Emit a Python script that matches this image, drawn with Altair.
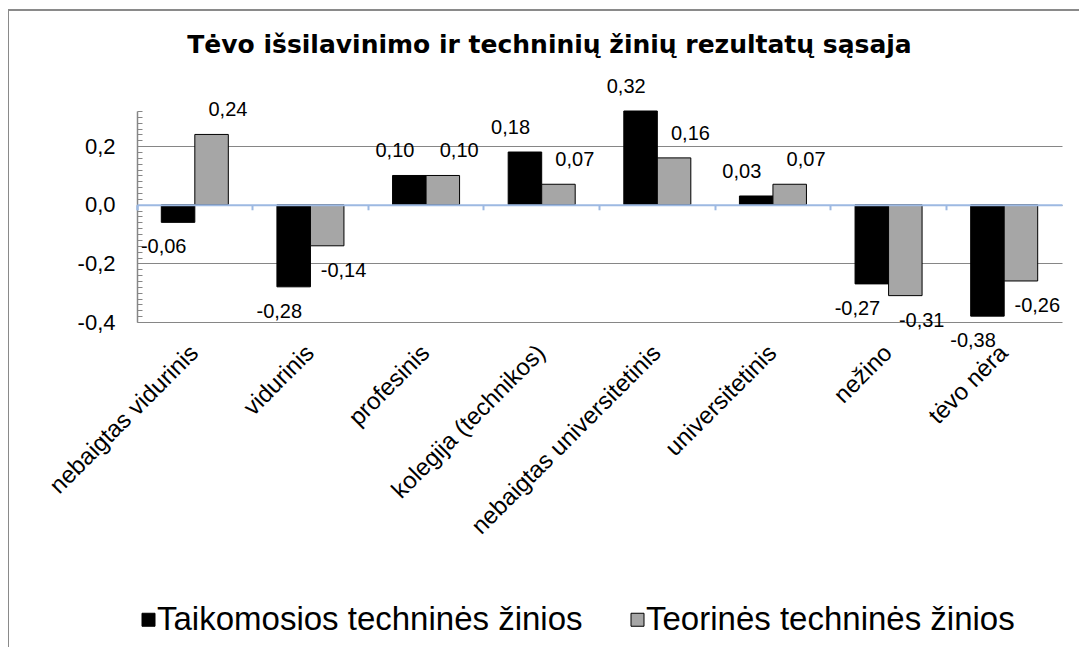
import altair as alt
import pandas as pd

# ---- data ----
categories = ["nebaigtas vidurinis", "vidurinis", "profesinis", "kolegija (technikos)",
              "nebaigtas universitetinis", "universitetinis", "nežino", "tėvo nėra"]
series_names = ["Taikomosios techninės žinios", "Teorinės techninės žinios"]
taikomosios = [-0.06, -0.28, 0.10, 0.18, 0.32, 0.03, -0.27, -0.38]
teorines = [0.24, -0.14, 0.10, 0.07, 0.16, 0.07, -0.31, -0.26]
y_major_ticks = [-0.4, -0.2, 0.0, 0.2]
title_text = "Tėvo išsilavinimo ir techninių žinių rezultatų sąsaja"

rows = []
for s, vals in zip(series_names, [taikomosios, teorines]):
    for c, v in zip(categories, vals):
        rows.append({"cat": c, "series": s, "value": v,
                     "label": f"{v:.2f}".replace(".", ",")})
df = pd.DataFrame(rows)

# ---- layout ----
W, H = 925, 211
Y_MIN, Y_MAX = -0.4, 0.32
zero_offset = -H * (0 - Y_MIN) / (Y_MAX - Y_MIN)
minor_ticks = [round(Y_MIN + 0.02 * i, 2) for i in range(int(round((Y_MAX - Y_MIN) / 0.02)) + 1)]

FONT = "Liberation Sans"
GRID = "#868686"
ZERO = "#9db9e2"

x_scale = alt.Scale(domain=categories, paddingInner=0, paddingOuter=0)
y_scale = alt.Scale(domain=[Y_MIN, Y_MAX], nice=False, zero=False)
off_scale = alt.Scale(domain=series_names, paddingInner=0, paddingOuter=0.725)
lab_off_scale = alt.Scale(domain=series_names, paddingInner=0, paddingOuter=0.4)
color_scale = alt.Scale(domain=series_names, range=["#000000", "#a6a6a6"])

label_expr = "replace(replace(format(datum.value, '.1f'), '.', ','), '\u2212', '-')"

base = alt.Chart(df)

bars = base.mark_bar(stroke="black", strokeWidth=1).encode(
    x=alt.X("cat:N", scale=x_scale, sort=categories, title=None,
            axis=alt.Axis(orient="bottom", labelAngle=-45, labelAlign="right",
                          labelBaseline="middle", labelPadding=27, labelOffset=0,
                          ticks=False, domain=False, grid=False, labelFont=FONT,
                          labelFontSize=24, labelColor="black", labelLimit=500)),
    xOffset=alt.XOffset("series:N", scale=off_scale, sort=series_names),
    y=alt.Y("value:Q", scale=y_scale, title=None,
            axis=alt.Axis(orient="left", values=y_major_ticks, labelExpr=label_expr,
                          grid=True, gridColor=GRID, gridWidth=1, ticks=False,
                          domain=True, domainColor=GRID, domainWidth=1.5,
                          labelPadding=22, labelFont=FONT, labelFontSize=22,
                          labelColor="black")),
    y2=alt.datum(0),
    color=alt.Color("series:N", scale=color_scale, sort=series_names,
                    legend=alt.Legend(orient="none", legendX=-5, legendY=492,
                                      direction="horizontal", title=None,
                                      symbolType="square", symbolSize=169,
                                      symbolStrokeColor="black", symbolStrokeWidth=1,
                                      labelFont=FONT, labelFontSize=33,
                                      labelColor="black", labelOffset={"expr": "-8"},
                                      columnPadding=38, labelLimit=700)),
)

pos_labels = base.transform_filter("datum.value >= 0").mark_text(
    font=FONT, fontSize=20, color="black", baseline="bottom", dy=-14, dx=1
).encode(
    x=alt.X("cat:N", scale=x_scale, sort=categories, title=None,
            axis=alt.Axis(orient="bottom", offset=zero_offset, labels=False,
                          domainColor=ZERO, domainWidth=2, tickColor=ZERO, tickWidth=2,
                          tickSize=5, bandPosition=0, tickExtra=True, zindex=1,
                          grid=False)),
    xOffset=alt.XOffset("series:N", scale=lab_off_scale, sort=series_names),
    y=alt.Y("value:Q", scale=y_scale, title=None,
            axis=alt.Axis(orient="right", offset=-W, values=minor_ticks, labels=False,
                          domain=False, grid=False, tickColor=GRID, tickSize=5,
                          tickWidth=1)),
    text="label:N",
)

neg_labels = base.transform_filter("datum.value < 0").mark_text(
    font=FONT, fontSize=20, color="black", baseline="top", dy=15, dx=1
).encode(
    x=alt.X("cat:N", scale=x_scale, sort=categories, axis=None),
    xOffset=alt.XOffset("series:N", scale=lab_off_scale, sort=series_names),
    y=alt.Y("value:Q", scale=y_scale, axis=None),
    text="label:N",
)

frame = alt.Chart(alt.Data(values=[{}])).mark_rect(
    fillOpacity=0, stroke="#8a8a8a", strokeWidth=2
).encode(
    x=alt.value(-129), y=alt.value(-101), x2=alt.value(W + 300), y2=alt.value(H + 500)
)

chart = alt.layer(frame, bars, pos_labels, neg_labels).resolve_axis(
    x="independent", y="independent"
).resolve_scale(
    xOffset="independent"
).properties(
    width=W, height=H,
    autosize=alt.AutoSizeParams(type="none"),
    padding={"left": 129, "top": 103, "right": 17, "bottom": 325},
    title=alt.TitleParams(title_text, font="DejaVu Sans", fontSize=25, fontWeight="bold",
                          anchor="middle", dx=-50, offset=-49, frame="group",
                          color="black"),
    background="white",
).configure_view(stroke=None)

chart.save("out.html", embed_options={"renderer": "svg", "actions": False})
